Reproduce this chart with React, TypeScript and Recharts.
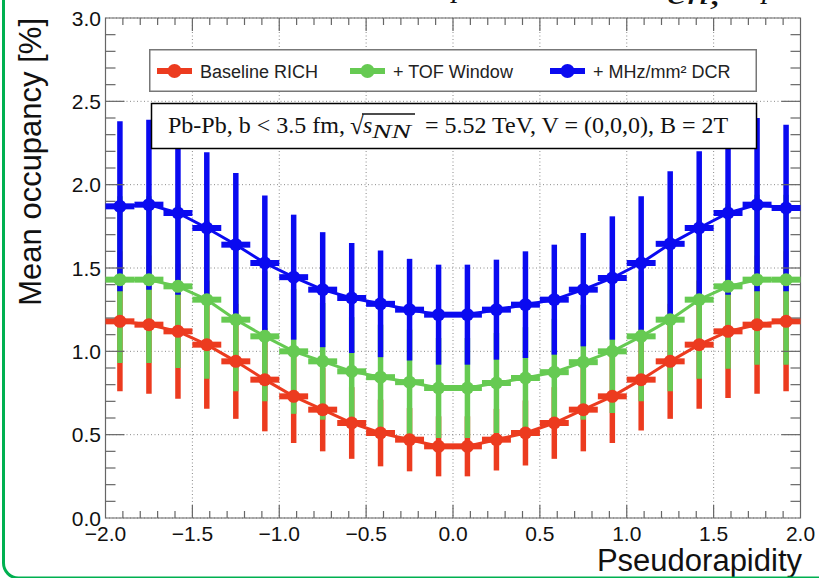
import React from 'react';
import {
  ComposedChart,
  Scatter,
  XAxis,
  YAxis,
  CartesianGrid,
  ErrorBar,
  ReferenceLine,
  ReferenceArea,
  Legend,
} from 'recharts';

// ---------- data ----------
const eta = [
  -1.917, -1.75, -1.583, -1.417, -1.25, -1.083, -0.917, -0.75, -0.583, -0.417, -0.25, -0.083,
  0.083, 0.25, 0.417, 0.583, 0.75, 0.917, 1.083, 1.25, 1.417, 1.583, 1.75, 1.917,
];
const binHalfWidth = 0.0833;

const baselineRich = [
  1.18, 1.16, 1.12, 1.04, 0.94, 0.83, 0.73, 0.65, 0.57, 0.51, 0.47, 0.43,
  0.43, 0.47, 0.51, 0.57, 0.65, 0.73, 0.83, 0.94, 1.04, 1.12, 1.16, 1.18,
];
const baselineRichErr = [
  0.42, 0.415, 0.405, 0.385, 0.345, 0.31, 0.28, 0.25, 0.215, 0.2, 0.19, 0.18,
  0.18, 0.185, 0.195, 0.215, 0.25, 0.28, 0.305, 0.345, 0.385, 0.4, 0.415, 0.42,
];
const tofWindow = [
  1.43, 1.43, 1.39, 1.31, 1.19, 1.09, 1.0, 0.94, 0.88, 0.845, 0.815, 0.78,
  0.78, 0.81, 0.84, 0.875, 0.935, 1.0, 1.09, 1.19, 1.31, 1.39, 1.43, 1.43,
];
const tofWindowErr = [
  0.5, 0.5, 0.49, 0.475, 0.43, 0.39, 0.375, 0.35, 0.325, 0.315, 0.315, 0.3,
  0.3, 0.3, 0.305, 0.32, 0.345, 0.37, 0.39, 0.43, 0.475, 0.495, 0.51, 0.51,
];
const dcr = [
  1.87, 1.88, 1.83, 1.74, 1.64, 1.53, 1.445, 1.37, 1.32, 1.285, 1.25, 1.22,
  1.22, 1.25, 1.28, 1.31, 1.37, 1.44, 1.53, 1.645, 1.74, 1.83, 1.88, 1.86,
];
const dcrErr = [
  0.51, 0.51, 0.49, 0.455, 0.43, 0.405, 0.375, 0.345, 0.33, 0.32, 0.305, 0.3,
  0.3, 0.3, 0.32, 0.33, 0.34, 0.37, 0.4, 0.435, 0.46, 0.49, 0.52, 0.5,
];

const seriesNames = ['Baseline RICH', '+ TOF Window', '+ MHz/mm\u00B2 DCR'];
const xTickLabels = [-2, -1.5, -1, -0.5, 0, 0.5, 1, 1.5, 2];
const yTickLabels = [0, 0.5, 1, 1.5, 2, 2.5, 3];

// ---------- style ----------
const RED = '#EC3B1F';
const GREEN = '#66CA52';
const BLUE = '#0A0AF0';
const AXIS = '#666';
const SANS = '"Liberation Sans", Arial, Helvetica, sans-serif';
const SERIF = '"Liberation Serif", "Times New Roman", serif';

const W = 819;
const H = 578;
const PLOT_W = 695;
const PLOT_H = 500;
const X_PER_PX = 4 / PLOT_W;
const Y_PER_PX = 3 / PLOT_H;

const build = (vals: number[], errs: number[]) =>
  eta.map((x, i) => ({ x, y: vals[i], ey: errs[i], ex: binHalfWidth }));

const redData = build(baselineRich, baselineRichErr);
const greenData = build(tofWindow, tofWindowErr);
const blueData = build(dcr, dcrErr);

// minor tick positions (0.1 steps)
const xMinor = Array.from({ length: 39 }, (_, k) => ({ v: Math.round((-2 + (k + 1) * 0.1) * 10) / 10, major: (k + 1) % 5 === 0 }));
const yMinor = Array.from({ length: 29 }, (_, k) => ({ v: Math.round((k + 1) * 0.1 * 10) / 10, major: (k + 1) % 5 === 0 }));

const fmt = (v: number) => {
  const s = Math.abs(v).toFixed(1);
  return v < 0 ? '\u2212' + s : s;
};

const XTick = (props: any) => {
  const { x, y, payload } = props;
  return (
    <text x={x} y={y + 23} textAnchor="middle" fontSize={21} fontFamily={SANS} fill="#111">
      {fmt(payload.value)}
    </text>
  );
};

const YTick = (props: any) => {
  const { x, y, payload } = props;
  return (
    <text x={x - 4.5} y={y + 7.5} textAnchor="end" fontSize={21} fontFamily={SANS} fill="#111">
      {fmt(payload.value)}
    </text>
  );
};

const makeShape = (color: string) => (p: any) =>
  <circle cx={p.cx} cy={p.cy} r={6.5} fill={color} />;

const seriesColors = [RED, GREEN, BLUE];

const LegendContent = (props: any) => {
  const payload: any[] = props.payload || [];
  const offsets = [8, 201, 401];
  return (
    <svg width={608} height={43} style={{ display: 'block' }}>
      <rect x={0.75} y={0.75} width={606.5} height={41.5} fill="#fff" stroke="#777" strokeWidth={1.5} />
      {seriesNames.map((name, i) => {
        const o = offsets[i];
        const entry = payload.find((e) => e && e.value === name);
        const c = (entry && entry.color) || seriesColors[i];
        return (
          <g key={name}>
            <line x1={o} x2={o + 35} y1={22} y2={22} stroke={c} strokeWidth={6} />
            <circle cx={o + 17.5} cy={22} r={7} fill={c} />
            <text x={o + 43} y={28.5} fontSize={18} fontFamily={SANS} fill="#222">
              {name}
            </text>
          </g>
        );
      })}
    </svg>
  );
};

const series = [
  { name: seriesNames[0], data: redData, color: RED },
  { name: seriesNames[1], data: greenData, color: GREEN },
  { name: seriesNames[2], data: blueData, color: BLUE },
];

export default function App() {
  return (
    <div style={{ position: 'absolute', left: 0, top: 0, width: W, height: H, background: '#fff' }}>
      <ComposedChart width={W} height={H} margin={{ top: 18, right: 18.5, bottom: 0, left: 0 }}>
        <CartesianGrid stroke="#8a8a8a" strokeDasharray="1 2.5" strokeWidth={1} />
        <XAxis
          type="number"
          dataKey="x"
          domain={[-2, 2]}
          allowDataOverflow
          ticks={xTickLabels}
          interval={0}
          height={60}
          tickSize={0}
          tickMargin={0}
          tickLine={false}
          axisLine={false}
          tick={XTick}
          label={{
            content: () => (
              <text x={802} y={571} textAnchor="end" fontSize={31} fontFamily={SANS} fill="#111">
                Pseudorapidity
              </text>
            ),
          }}
        />
        <YAxis
          type="number"
          dataKey="y"
          domain={[0, 3]}
          allowDataOverflow
          ticks={yTickLabels}
          interval={0}
          width={105.5}
          tickSize={0}
          tickMargin={0}
          tickLine={false}
          axisLine={false}
          tick={YTick}
          label={{
            content: () => (
              <text
                x={41}
                y={18}
                transform="rotate(-90, 41, 18)"
                textAnchor="end"
                fontSize={31}
                fontFamily={SANS}
                fill="#111"
              >
                Mean occupancy [%]
              </text>
            ),
          }}
        />
        {series.map((s) => (
          <Scatter
            key={s.name}
            name={s.name}
            data={s.data}
            dataKey="y"
            fill={s.color}
            line={{ stroke: s.color, strokeWidth: 3 }}
            lineType="joint"
            shape={makeShape(s.color)}
            legendType="circle"
            isAnimationActive={false}
          >
            <ErrorBar dataKey="ex" direction="x" width={0} stroke={s.color} strokeWidth={6} isAnimationActive={false} />
            <ErrorBar dataKey="ey" direction="y" width={0} stroke={s.color} strokeWidth={5.5} isAnimationActive={false} />
          </Scatter>
        ))}
        <ReferenceArea x1={-2} x2={2} y1={0} y2={3} fill="none" fillOpacity={0} stroke={AXIS} strokeWidth={1.2} ifOverflow="visible" />
        {xMinor.map((t) => (
          <ReferenceLine
            key={'xb' + t.v}
            segment={[{ x: t.v, y: 0 }, { x: t.v, y: (t.major ? 13 : 7) * Y_PER_PX }]}
            stroke={AXIS}
            strokeWidth={1.2}
            ifOverflow="visible"
          />
        ))}
        {xMinor.map((t) => (
          <ReferenceLine
            key={'xt' + t.v}
            segment={[{ x: t.v, y: 3 }, { x: t.v, y: 3 - (t.major ? 13 : 7) * Y_PER_PX }]}
            stroke={AXIS}
            strokeWidth={1.2}
            ifOverflow="visible"
          />
        ))}
        {yMinor.map((t) => (
          <ReferenceLine
            key={'yl' + t.v}
            segment={[{ x: -2, y: t.v }, { x: -2 + (t.major ? 19 : 10) * X_PER_PX, y: t.v }]}
            stroke={AXIS}
            strokeWidth={1.2}
            ifOverflow="visible"
          />
        ))}
        {yMinor.map((t) => (
          <ReferenceLine
            key={'yr' + t.v}
            segment={[{ x: 2, y: t.v }, { x: 2 - (t.major ? 19 : 10) * X_PER_PX, y: t.v }]}
            stroke={AXIS}
            strokeWidth={1.2}
            ifOverflow="visible"
          />
        ))}
        <Legend
          layout="horizontal"
          verticalAlign="middle"
          align="center"
          content={LegendContent}
          wrapperStyle={{ left: 149, top: 49, width: 608, height: 43 }}
        />
      </ComposedChart>
      <svg
        width={W}
        height={H}
        style={{ position: 'absolute', left: 0, top: 0, pointerEvents: 'none' }}
      >
        {/* clipped title fragments at the very top */}
        <text x={452} y={-3} fontSize={30} fontStyle="italic" fontFamily={SERIF} fill="#111">p</text>
        <text x={667} y={4} fontSize={32} fontStyle="italic" fontFamily={SERIF} fill="#111" textLength={53} lengthAdjust="spacingAndGlyphs">ch,</text>
        <text x={762} y={-2} fontSize={30} fontStyle="italic" fontFamily={SERIF} fill="#111">p</text>

        {/* annotation box */}
        <rect x={151.5} y={103.5} width={605} height={45} fill="#fff" stroke="#000" strokeWidth={1.5} />
        <text x={168} y={133} fontSize={24} fontFamily={SERIF} fill="#111">Pb-Pb, b &lt; 3.5 fm,</text>
        <text x={350} y={134} fontSize={25} fontFamily={SERIF} fill="#111">{'\u221A'}</text>
        <line x1={362} x2={415} y1={114} y2={114} stroke="#111" strokeWidth={1.3} />
        <text x={363} y={133} fontSize={24} fontStyle="italic" fontFamily={SERIF} fill="#111">s</text>
        <text x={372} y={138} fontSize={19} fontStyle="italic" fontFamily={SERIF} fill="#111" textLength={39} lengthAdjust="spacingAndGlyphs">NN</text>
        <text x={425} y={133} fontSize={24} fontFamily={SERIF} fill="#111">= 5.52 TeV, V = (0,0,0), B = 2T</text>

        {/* outer green rounded frame */}
        <rect x={3.5} y={-40} width={900} height={618} rx={15} fill="none" stroke="#00B050" strokeWidth={3} />
      </svg>
    </div>
  );
}
